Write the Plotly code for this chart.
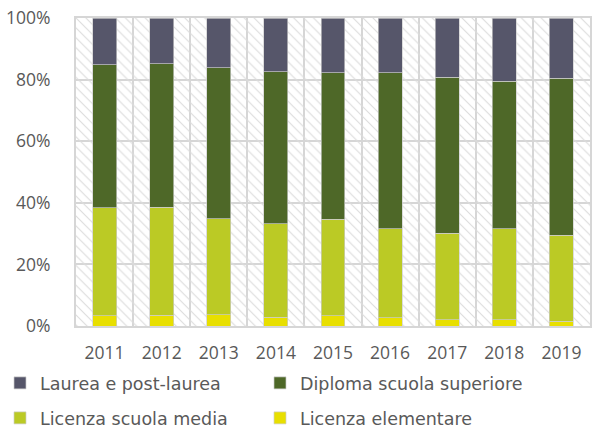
import plotly.graph_objects as go

# Share of each education level per year (%), bottom to top of the stack
years = ["2011", "2012", "2013", "2014", "2015", "2016", "2017", "2018", "2019"]
elementare = [3.4, 3.5, 3.7, 2.9, 3.3, 2.7, 2.0, 2.0, 1.6]
media = [35.0, 35.1, 31.1, 30.3, 31.3, 28.8, 28.1, 29.6, 27.9]
diploma = [46.4, 46.5, 49.0, 49.4, 47.6, 50.7, 50.6, 47.8, 50.9]
laurea = [15.2, 14.9, 16.2, 17.4, 17.8, 17.8, 19.3, 20.6, 19.6]
y_ticks = [0, 20, 40, 60, 80, 100]
y_labels = [f"{v}%" for v in y_ticks]

# name, values, colour, legend id, legend position (px from left, px from top)
series = [
    ("Licenza elementare", elementare, "#E8DF00", "legend4", (260, 418)),
    ("Licenza scuola media", media, "#BBCA25", "legend3", (0, 418)),
    ("Diploma scuola superiore", diploma, "#4E6828", "legend2", (260, 383)),
    ("Laurea e post-laurea", laurea, "#56566A", "legend", (0, 383)),
]

W, H = 600, 433
FONT = "Open Sans"
LEG_FONT = "DejaVu Sans"
TXT = "#595959"
GRID = "#d6d6d6"

fig = go.Figure()

# hatched plot background on hidden base axes, kept beneath the bars
fig.add_trace(go.Scatter(
    x=[0, 1, 1, 0, 0], y=[0, 0, 1, 1, 0],
    fill="toself", mode="none",
    fillcolor="rgba(255,255,255,0)",
    fillpattern=dict(shape="\\", fgcolor="#dcdcdc", bgcolor="rgba(255,255,255,0)",
                     size=7, solidity=0.16, fillmode="replace"),
    hoverinfo="skip", showlegend=False, xaxis="x", yaxis="y",
))

legends = {}
for name, vals, color, leg, (lx, ly) in series:
    fig.add_trace(go.Bar(
        x=years, y=vals, name=name,
        marker=dict(color=color, line=dict(color="rgba(205,205,205,0.9)", width=0.75)),
        xaxis="x2", yaxis="y2", legend=leg,
    ))
    legends[leg] = dict(
        orientation="h", xref="container", yref="container",
        x=lx / W, y=1 - ly / H, xanchor="left", yanchor="middle",
        bgcolor="rgba(0,0,0,0)",
        font=dict(family=LEG_FONT, size=17.5, color=TXT),
    )

fig.update_layout(
    width=W, height=H,
    margin=dict(l=76, r=10, t=18, b=107, autoexpand=False),
    paper_bgcolor="white", plot_bgcolor="white",
    barmode="stack", bargap=0.58,
    font=dict(family=FONT, size=17.5, color=TXT),
    xaxis=dict(range=[0, 1], visible=False, fixedrange=True),
    yaxis=dict(range=[0, 1], visible=False, fixedrange=True),
    xaxis2=dict(
        overlaying="x", anchor="y2", type="category",
        range=[-0.5, 8.5], tickson="boundaries",
        showgrid=True, gridcolor=GRID, gridwidth=2,
        showline=True, linecolor=GRID, linewidth=2, mirror=True,
        ticks="", ticklabelstandoff=10, automargin=False,
        tickfont=dict(family=FONT, size=17.5, color=TXT),
    ),
    yaxis2=dict(
        overlaying="y", anchor="x2",
        range=[0, 100], tickmode="array", tickvals=y_ticks, ticktext=y_labels,
        showgrid=True, gridcolor=GRID, gridwidth=2,
        showline=True, linecolor=GRID, linewidth=2, mirror=True,
        zeroline=False, ticks="", ticklabelstandoff=20, automargin=False,
        tickfont=dict(family=FONT, size=17.5, color=TXT),
    ),
    **legends,
)

fig.write_html("out.html")
